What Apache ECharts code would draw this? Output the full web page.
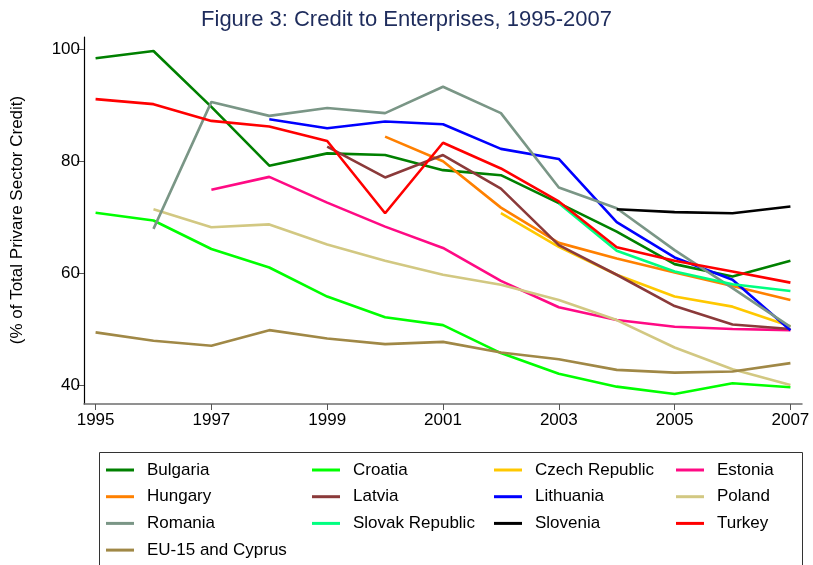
<!DOCTYPE html>
<html>
<head>
<meta charset="utf-8">
<script src="https://cdn.jsdelivr.net/npm/echarts@6/dist/echarts.min.js"></script>
<style>
html,body{margin:0;padding:0;background:#fff;}
#c{width:813px;height:565px;}
</style>
</head>
<body>
<div id="c"></div>
<script>
const years = [1995,1996,1997,1998,1999,2000,2001,2002,2003,2004,2005,2006,2007];
const xTicks = [1995,1997,1999,2001,2003,2005,2007];
const yTicks = [40,60,80,100];

const bulgaria = [98.4,99.7,89.7,79.2,81.4,81.1,78.4,77.5,72.5,67.4,61.6,59.4,62.2];
const croatia  = [70.8,69.4,64.3,61.0,55.8,52.1,50.7,45.7,42.0,39.7,38.4,40.3,39.6];
const czech    = [null,null,null,null,null,null,null,70.7,64.7,59.7,55.8,54.0,50.5];
const estonia  = [null,null,74.9,77.2,72.6,68.3,64.5,58.6,53.9,51.6,50.4,50.0,49.8];
const hungary  = [null,null,null,null,null,84.4,80.0,71.7,65.4,62.6,60.1,57.7,55.2];
const latvia   = [null,null,null,null,82.6,77.1,81.1,75.1,65.0,59.7,54.1,50.8,50.0];
const lithuania= [null,null,null,87.5,85.9,87.1,86.6,82.2,80.4,69.1,62.8,58.8,49.8];
const poland   = [null,71.4,68.2,68.7,65.1,62.2,59.7,57.9,55.2,51.6,46.7,42.8,40.0];
const romania  = [null,67.9,90.6,88.1,89.5,88.6,93.3,88.6,75.3,71.6,64.1,57.3,50.4];
const slovak   = [null,null,null,null,null,null,null,null,72.5,64.0,60.3,58.0,56.8];
const slovenia = [null,null,null,null,null,null,null,null,null,71.4,70.9,70.7,71.9];
const turkey   = [91.1,90.2,87.2,86.2,83.6,70.7,83.3,78.7,72.8,64.6,62.2,60.3,58.3];
const eu15     = [49.4,47.9,47.0,49.8,48.3,47.3,47.7,45.8,44.6,42.7,42.2,42.4,43.9];

const seriesDefs = [
  ['Bulgaria', bulgaria, '#008000'],
  ['Croatia', croatia, '#00ff00'],
  ['Czech Republic', czech, '#ffc800'],
  ['Estonia', estonia, '#ff0a84'],
  ['Hungary', hungary, '#ff8000'],
  ['Latvia', latvia, '#8b3a3a'],
  ['Lithuania', lithuania, '#0000ff'],
  ['Poland', poland, '#d2c882'],
  ['Romania', romania, '#7a9686'],
  ['Slovak Republic', slovak, '#00ff80'],
  ['Slovenia', slovenia, '#000000'],
  ['Turkey', turkey, '#ff0000'],
  ['EU-15 and Cyprus', eu15, '#a08846']
];

const chart = echarts.init(document.getElementById('c'), null, {renderer:'canvas'});
const series = seriesDefs.map(([name, vals, color]) => ({
  name: name,
  type: 'line',
  data: years.map((y,i) => [y, vals[i]]),
  showSymbol: false,
  symbol: 'none',
  connectNulls: false,
  lineStyle: {width: 2.6, color: color},
  itemStyle: {color: color},
  emphasis: {disabled: true},
  animation: false
}));

const legendCols = [
  ['Bulgaria','Hungary','Romania','EU-15 and Cyprus'],
  ['Croatia','Latvia','Slovak Republic'],
  ['Czech Republic','Lithuania','Slovenia'],
  ['Estonia','Poland','Turkey']
];
const legendLefts = [106, 312, 494, 676];
const legends = legendCols.map((col, i) => ({
  data: col,
  orient: 'vertical',
  left: legendLefts[i],
  top: 461,
  itemWidth: 28,
  itemHeight: 3,
  itemGap: 8.7,
  icon: 'rect',
  selectedMode: false,
  padding: 0,
  textStyle: {fontFamily: 'Liberation Sans, Arial', fontSize: 17, color: '#000', lineHeight: 18, padding: [0,0,0,8]}
}));

chart.setOption({
  animation: false,
  backgroundColor: '#fff',
  title: {
    text: 'Figure 3: Credit to Enterprises, 1995-2007',
    left: 'center',
    top: 4,
    textStyle: {fontFamily: 'Liberation Sans, Arial', fontSize: 22, fontWeight: 'normal', color: '#1e2c5c'}
  },
  legend: legends,
  grid: {left: 84, right: 11, top: 37, bottom: 161, containLabel: false},
  xAxis: {
    type: 'value',
    min: 1994.8,
    max: 2007.2,
    axisLine: {show: true, lineStyle: {color: '#6e6e6e', width: 1.5}},
    axisTick: {show: true, length: 6, customValues: xTicks, lineStyle: {color: '#555'}},
    axisLabel: {customValues: xTicks, color: '#000', fontSize: 17, fontFamily: 'Liberation Sans, Arial', margin: 8, formatter: v => String(v)},
    splitLine: {show: false}
  },
  yAxis: {
    type: 'value',
    min: 36.6,
    max: 102.2,
    axisLine: {show: true, lineStyle: {color: '#000', width: 1.2}},
    axisTick: {show: true, length: 7, customValues: yTicks, lineStyle: {color: '#555'}},
    axisLabel: {customValues: yTicks, color: '#000', fontSize: 17, fontFamily: 'Liberation Sans, Arial', margin: 4},
    splitLine: {show: false}
  },
  graphic: [
    {
      type: 'rect',
      shape: {x: 99.5, y: 452.5, width: 703, height: 120},
      style: {fill: 'none', stroke: '#333', lineWidth: 1},
      silent: true
    },
    {
      type: 'text',
      x: 17, y: 220,
      rotation: Math.PI/2,
      style: {text: '(% of Total Privare Sector Credit)', fontFamily: 'Liberation Sans, Arial', fontSize: 17, fill: '#000', align: 'center', verticalAlign: 'middle'},
      silent: true
    }
  ],
  series: series
});
</script>
</body>
</html>
